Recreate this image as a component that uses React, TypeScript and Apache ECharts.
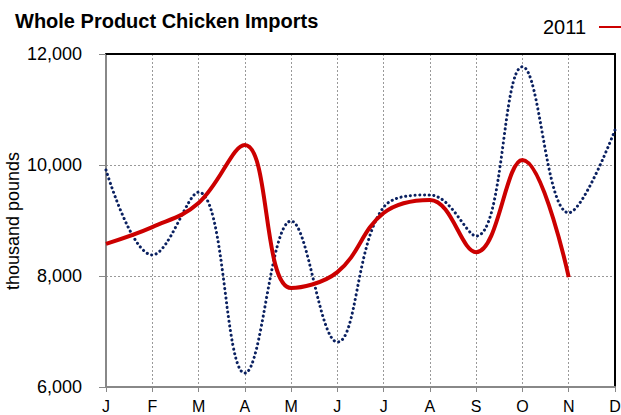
import React, { useEffect, useRef } from "react";
import * as echarts from "echarts";

const months = ["J", "F", "M", "A", "M", "J", "J", "A", "S", "O", "N", "D"];
const series2011 = [8580, 8880, 9315, 10360, 7785, 8070, 9135, 9370, 8430, 10090, 7980, null];
const seriesOther = [9910, 8380, 9510, 6250, 8990, 6810, 9240, 9460, 8720, 11770, 9140, 10630];
const yTicks = { min: 6000, max: 12000, interval: 2000 };
const yAxisTitle = "thousand pounds";

const FONT = "Liberation Sans";

export default function App() {
  const ref = useRef<HTMLDivElement>(null);
  useEffect(() => {
    const chart = echarts.init(ref.current!, null, { renderer: "svg" });
    chart.setOption({
      animation: false,
      backgroundColor: "#fff",
      title: {
        text: "Whole Product Chicken Imports",
        left: 10,
        top: 6,
        textStyle: { fontFamily: FONT, fontSize: 20, fontWeight: "bold", color: "#000" },
      },
      legend: {
        data: ["2011"],
        left: 538,
        top: 12,
        align: "right",
        itemWidth: 26,
        itemHeight: 2,
        icon: "rect",
        itemGap: 5,
        textStyle: { fontFamily: FONT, fontSize: 20, color: "#000", padding: [0, 8, 0, 0] },
      },
      graphic: [
        {
          type: "text",
          x: 13,
          y: 221,
          rotation: Math.PI / 2,
          style: {
            text: yAxisTitle,
            fontFamily: FONT,
            fontSize: 18,
            fill: "#000",
            align: "center",
            verticalAlign: "middle",
          },
        },
      ],
      grid: { left: 106, right: 6, top: 54, bottom: 28, containLabel: false, outerBoundsMode: "none" },
      xAxis: [
        {
          type: "category",
          data: months,
          boundaryGap: false,
          axisLine: { lineStyle: { color: "#888", width: 2 } },
          axisTick: { show: true, length: 5, lineStyle: { color: "#888", width: 1 } },
          axisLabel: { fontFamily: FONT, fontSize: 16, color: "#000", margin: 11 },
          splitLine: { show: true, lineStyle: { color: "#999", type: [2, 2], width: 1 } },
        },
        {
          type: "category",
          data: months,
          boundaryGap: false,
          position: "top",
          axisLine: { lineStyle: { color: "#000", width: 2 } },
          axisTick: { show: false },
          axisLabel: { show: false },
          splitLine: { show: false },
        },
      ],
      yAxis: [
        {
          type: "value",
          min: yTicks.min,
          max: yTicks.max,
          interval: yTicks.interval,
          axisLine: { show: true, lineStyle: { color: "#888", width: 2 } },
          axisTick: { show: true, length: 7, lineStyle: { color: "#888" } },
          axisLabel: {
            fontFamily: FONT,
            fontSize: 18,
            color: "#000",
            margin: 24,
            formatter: (v: number) => v.toLocaleString("en-US"),
          },
          splitLine: { show: true, lineStyle: { color: "#999", type: [2, 2], width: 1 } },
        },
        {
          type: "value",
          min: yTicks.min,
          max: yTicks.max,
          interval: yTicks.interval,
          position: "right",
          axisLine: { show: true, lineStyle: { color: "#000", width: 2 } },
          axisTick: { show: false },
          axisLabel: { show: false },
          splitLine: { show: false },
        },
      ],
      series: [
        {
          name: "Other",
          type: "line",
          data: seriesOther,
          smooth: 0.4,
          showSymbol: false,
          lineStyle: { color: "#0a2060", width: 3, type: [0.1, 4.6], cap: "round" },
          z: 2,
        },
        {
          name: "2011",
          type: "line",
          data: series2011,
          smooth: 0.4,
          showSymbol: false,
          color: "#cc0000",
          lineStyle: { color: "#cc0000", width: 4 },
          z: 3,
        },
      ],
    });
    return () => chart.dispose();
  }, []);
  return <div ref={ref} style={{ width: 621, height: 415, position: "absolute", left: 0, top: 0 }} />;
}
